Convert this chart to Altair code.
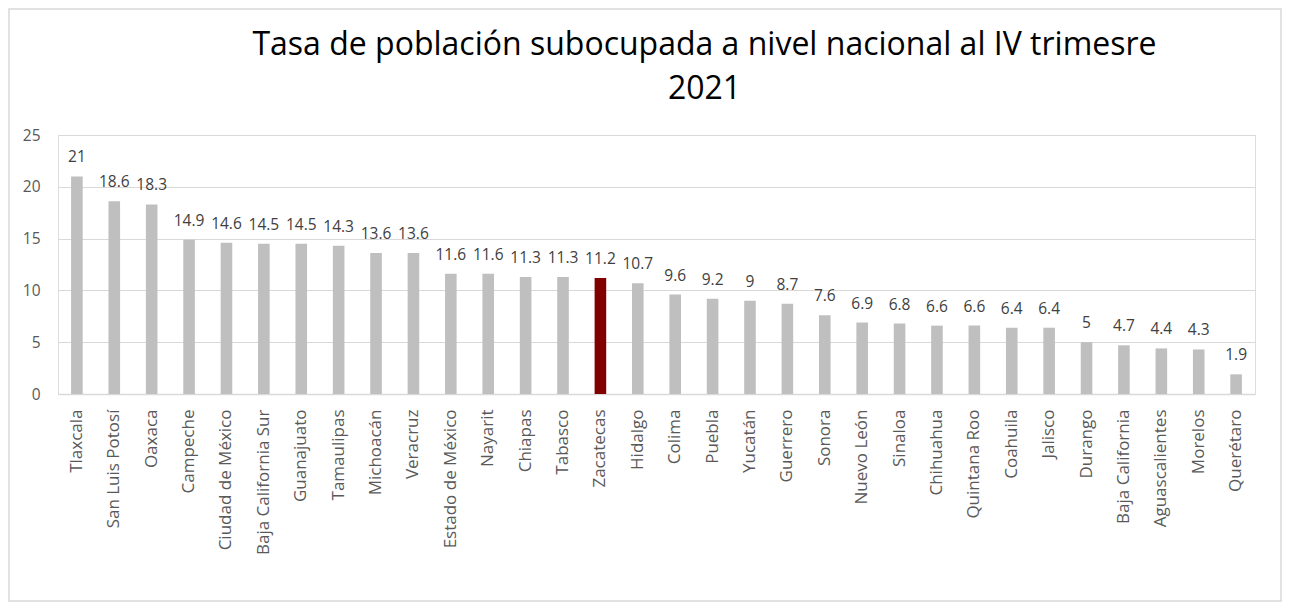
import altair as alt
import pandas as pd

states = ["Tlaxcala", "San Luis Potosí", "Oaxaca", "Campeche", "Ciudad de México",
          "Baja California Sur", "Guanajuato", "Tamaulipas", "Michoacán", "Veracruz",
          "Estado de México", "Nayarit", "Chiapas", "Tabasco", "Zacatecas", "Hidalgo",
          "Colima", "Puebla", "Yucatán", "Guerrero", "Sonora", "Nuevo León", "Sinaloa",
          "Chihuahua", "Quintana Roo", "Coahuila", "Jalisco", "Durango",
          "Baja California", "Aguascalientes", "Morelos", "Querétaro"]
values = [21, 18.6, 18.3, 14.9, 14.6, 14.5, 14.5, 14.3, 13.6, 13.6, 11.6, 11.6, 11.3,
          11.3, 11.2, 10.7, 9.6, 9.2, 9, 8.7, 7.6, 6.9, 6.8, 6.6, 6.6, 6.4, 6.4, 5,
          4.7, 4.4, 4.3, 1.9]
highlight = "Zacatecas"
y_ticks = [0, 5, 10, 15, 20, 25]
title_text = "Tasa de población subocupada a nivel nacional al IV trimesre\n2021"

df = pd.DataFrame({
    "estado": states,
    "valor": values,
    "etiqueta": [("%g" % v) for v in values],
    "grupo": ["hl" if s == highlight else "base" for s in states],
})

W, H = 1197, 259
FONT = "Open Sans"

yscale = alt.Scale(domain=[0, 25], nice=False)
x = alt.X("estado:N", sort=states,
          scale=alt.Scale(paddingInner=0.69, paddingOuter=0.35),
          axis=alt.Axis(title=None, labelAngle=-90, labelFont=FONT, labelFontSize=17,
                        labelColor="#595959", ticks=False, domainColor="#d9d9d9",
                        domainWidth=1.5, labelPadding=15, labelBaseline="middle",
                        labelAlign="right"))
y = alt.Y("valor:Q", scale=yscale,
          axis=alt.Axis(title=None, values=y_ticks, grid=True, gridColor="#d9d9d9",
                        gridWidth=1.2, domain=False, ticks=False, labelFont=FONT,
                        labelFontSize=15.5, labelColor="#595959", labelPadding=18))

bars = alt.Chart(df).mark_bar().encode(
    x=x, y=y,
    color=alt.Color("grupo:N", scale=alt.Scale(domain=["base", "hl"],
                                               range=["#bfbfbf", "#800000"]), legend=None),
)
labels = alt.Chart(df).mark_text(baseline="bottom", dy=-11, font=FONT, fontSize=15.5,
                                 color="#404040").encode(
    x=alt.X("estado:N", sort=states), y=alt.Y("valor:Q", scale=yscale),
    text="etiqueta:N")

border = alt.Chart(pd.DataFrame({"k": [0]})).mark_rect(
    fill=None, stroke="#d9d9d9", strokeWidth=1.5).encode(
    x=alt.value(-49), x2=alt.value(W + 26), y=alt.value(-126), y2=alt.value(H + 207))

title = alt.Chart(pd.DataFrame({"k": [0]})).mark_text(
    font=FONT, fontSize=32, color="#000000", align="center", baseline="alphabetic",
    lineBreak="\n", lineHeight=44).encode(
    x=alt.value(W / 2 + 48), y=alt.value(-80), text=alt.value(title_text))

chart = alt.layer(border, title, bars, labels).properties(
    width=W, height=H,
    padding={"left": 50, "top": 127, "right": 28, "bottom": 208},
).configure_view(strokeWidth=0).configure(autosize="none")

chart.save("out.html", embed_options={"renderer": "svg", "actions": False})
